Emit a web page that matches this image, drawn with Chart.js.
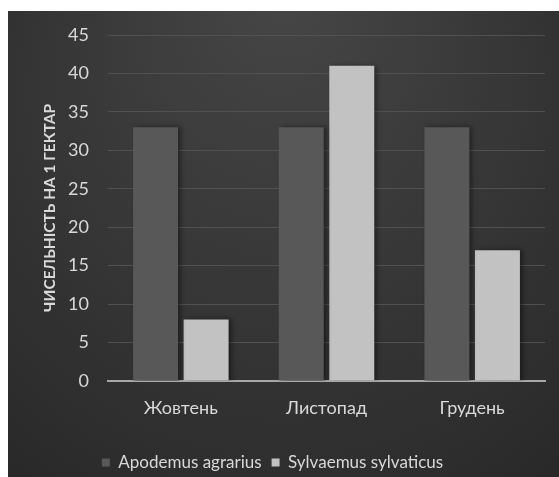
<!DOCTYPE html>
<html>
<head>
<meta charset="utf-8">
<script src="https://cdn.jsdelivr.net/npm/chart.js@4/dist/chart.umd.min.js"></script>
<style>
  html, body { margin: 0; padding: 0; background: #ffffff; }
  #wrap { width: 559px; height: 477px; position: relative; }
</style>
</head>
<body>
<div id="wrap"><canvas id="c" width="559" height="477"></canvas></div>
<script>
const months = ['Жовтень', 'Листопад', 'Грудень'];
const agrarius = [33, 33, 33];
const sylvaticus = [8, 41, 17];
const seriesNames = ['Apodemus agrarius', 'Sylvaemus sylvaticus'];
const yTitle = 'ЧИСЕЛЬНІСТЬ НА 1 ГЕКТАР';

// dark panel behind the whole chart, lighter towards the top
const panel = {
  id: 'panel',
  beforeDraw(chart) {
    const ctx = chart.ctx;
    const x0 = 8, y0 = 11, w = chart.width - x0, h = chart.height - y0;
    ctx.save();
    const g = ctx.createRadialGradient(x0 + w * 0.5, y0 - 40, 10, x0 + w * 0.5, y0 + h * 0.4, w * 0.85);
    g.addColorStop(0, '#464646');
    g.addColorStop(1, '#252525');
    ctx.fillStyle = g;
    ctx.fillRect(x0, y0, w, h);
    ctx.restore();
  }
};

// soft shadow to the right of each bar
const barShadow = {
  id: 'barShadow',
  beforeDatasetsDraw(chart) {
    const ctx = chart.ctx;
    ctx.save();
    ctx.shadowColor = 'rgba(0,0,0,0.45)';
    ctx.shadowBlur = 5;
    ctx.shadowOffsetX = 3;
    ctx.shadowOffsetY = 0;
  },
  afterDatasetsDraw(chart) {
    chart.ctx.restore();
  }
};

const font = "Lato, 'Open Sans', sans-serif";
const textColor = '#d9d9d9';

new Chart(document.getElementById('c'), {
  type: 'bar',
  data: {
    labels: months,
    datasets: [
      { label: seriesNames[0], data: agrarius, backgroundColor: '#585858', borderWidth: 0 },
      { label: seriesNames[1], data: sylvaticus, backgroundColor: '#c2c2c2', borderWidth: 0 }
    ]
  },
  options: {
    responsive: false,
    animation: false,
    layout: { padding: { left: 0, right: 14, top: 35, bottom: -4 } },
    datasets: { bar: { categoryPercentage: 0.694, barPercentage: 0.89 } },
    plugins: {
      legend: {
        position: 'bottom',
        labels: {
          color: textColor,
          font: { family: font, size: 17 },
          boxWidth: 8, boxHeight: 8, padding: 10
        }
      },
      tooltip: { enabled: false }
    },
    scales: {
      x: {
        grid: { display: false, drawTicks: false },
        border: { color: '#a8a8a8', width: 2 },
        ticks: { color: textColor, font: { family: font, size: 18 }, padding: 16 },
        afterFit(scale) { scale.height = 63; }
      },
      y: {
        min: 0, max: 45,
        ticks: { stepSize: 5, color: textColor, font: { family: font, size: 18 }, padding: 19 },
        grid: { color: '#515151', lineWidth: 1, drawTicks: false },
        border: { display: false },
        title: {
          display: true, text: yTitle, color: textColor,
          font: { family: font, size: 15.5, weight: 'bold' }, padding: { top: 41, bottom: 0 }
        },
        afterFit(scale) { scale.width = 108; }
      }
    }
  },
  plugins: [panel, barShadow]
});
</script>
</body>
</html>
